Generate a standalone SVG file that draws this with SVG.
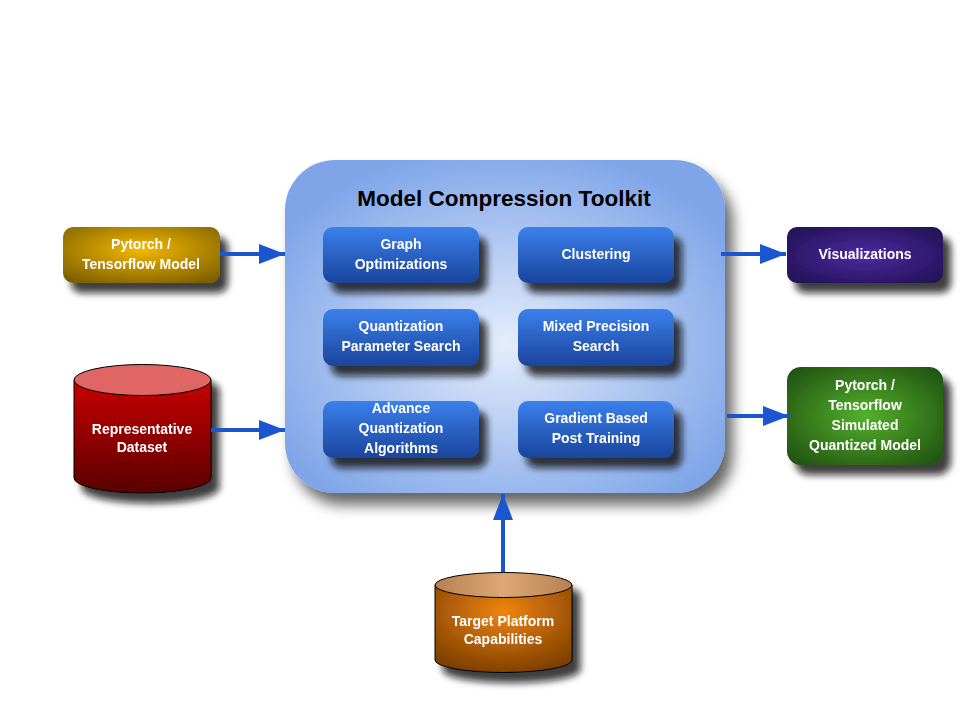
<svg xmlns="http://www.w3.org/2000/svg" width="960" height="720" viewBox="0 0 960 720">
<style>
.t{font-family:"Liberation Sans",Arial,sans-serif;font-weight:bold;fill:#fff;font-size:14px;text-anchor:middle}
.title{font-family:"Liberation Sans",Arial,sans-serif;font-weight:bold;fill:#000;font-size:22.5px;text-anchor:middle}
.conn{stroke:#1a56d0;stroke-width:4;fill:none}
.ib{fill:url(#gBlue)}
</style>
<defs>
<filter id="sh" x="-20%" y="-20%" width="150%" height="170%">
<feDropShadow dx="8" dy="10" stdDeviation="3.5" flood-color="#111" flood-opacity="0.8"/>
</filter>
<filter id="shBig" x="-10%" y="-10%" width="130%" height="130%">
<feDropShadow dx="8" dy="12" stdDeviation="7" flood-color="#000" flood-opacity="0.6"/>
</filter>
<radialGradient id="gMain" cx="0.5" cy="0.55" r="0.6">
<stop offset="0" stop-color="#e4edfc"/>
<stop offset="1" stop-color="#7fa5e8"/>
</radialGradient>
<linearGradient id="gBlue" x1="0" y1="0" x2="0" y2="1">
<stop offset="0" stop-color="#3b80ec"/>
<stop offset="1" stop-color="#1a449c"/>
</linearGradient>
<radialGradient id="gGold" cx="0.5" cy="0.4" r="0.7">
<stop offset="0" stop-color="#f5b800"/>
<stop offset="1" stop-color="#7d6000"/>
</radialGradient>
<radialGradient id="gPurple" cx="0.5" cy="0.5" r="0.7">
<stop offset="0" stop-color="#4d2aa3"/>
<stop offset="1" stop-color="#1f1050"/>
</radialGradient>
<radialGradient id="gGreen" cx="0.5" cy="0.5" r="0.7">
<stop offset="0" stop-color="#52b02c"/>
<stop offset="1" stop-color="#1e4d10"/>
</radialGradient>
<linearGradient id="gRed" x1="0" y1="0" x2="0" y2="1">
<stop offset="0" stop-color="#c80000"/>
<stop offset="1" stop-color="#5a0000"/>
</linearGradient>
<radialGradient id="gOrange" cx="0.5" cy="0.3" r="0.75">
<stop offset="0" stop-color="#ef8410"/>
<stop offset="1" stop-color="#7a3d00"/>
</radialGradient>
<linearGradient id="gOrangeTop" x1="0" y1="0" x2="1" y2="0">
<stop offset="0" stop-color="#b88050"/>
<stop offset="0.5" stop-color="#dca874"/>
<stop offset="1" stop-color="#b88050"/>
</linearGradient>
<marker id="ah" viewBox="0 0 13 10" refX="13" refY="5" markerWidth="6.5" markerHeight="5" markerUnits="strokeWidth" orient="auto">
<path d="M0,0 L13,5 L0,10 z" fill="#1a56d0"/>
</marker>
</defs>

<g id="toolkit">
<rect x="285" y="160" width="440" height="333" rx="50" ry="50" fill="url(#gMain)" filter="url(#shBig)"/>
<text class="title" x="504" y="206">Model Compression Toolkit</text>
</g>

<g id="graph-opt" filter="url(#sh)">
<rect class="ib" x="323" y="227" width="156" height="56" rx="10"/>
<text class="t" x="401" y="249">Graph</text>
<text class="t" x="401" y="269">Optimizations</text>
</g>
<g id="clustering" filter="url(#sh)">
<rect class="ib" x="518" y="227" width="156" height="56" rx="10"/>
<text class="t" x="596" y="259">Clustering</text>
</g>
<g id="qps" filter="url(#sh)">
<rect class="ib" x="323" y="309" width="156" height="57" rx="10"/>
<text class="t" x="401" y="331">Quantization</text>
<text class="t" x="401" y="351">Parameter Search</text>
</g>
<g id="mps" filter="url(#sh)">
<rect class="ib" x="518" y="309" width="156" height="57" rx="10"/>
<text class="t" x="596" y="331">Mixed Precision</text>
<text class="t" x="596" y="351">Search</text>
</g>
<g id="aqa" filter="url(#sh)">
<rect class="ib" x="323" y="401" width="156" height="57" rx="10"/>
<text class="t" x="401" y="413">Advance</text>
<text class="t" x="401" y="433">Quantization</text>
<text class="t" x="401" y="453">Algorithms</text>
</g>
<g id="gbpt" filter="url(#sh)">
<rect class="ib" x="518" y="401" width="156" height="57" rx="10"/>
<text class="t" x="596" y="423">Gradient Based</text>
<text class="t" x="596" y="443">Post Training</text>
</g>

<g id="pytorch-model" filter="url(#sh)">
<rect x="63" y="227" width="157" height="56" rx="10" fill="url(#gGold)"/>
<text class="t" x="141" y="249">Pytorch /</text>
<text class="t" x="141" y="269">Tensorflow Model</text>
</g>

<g id="rep-dataset" filter="url(#sh)">
<path d="M74,380 L74,478 A68.5,15 0 0 0 211,478 L211,380 Z" fill="url(#gRed)" stroke="#000" stroke-width="1"/>
<ellipse cx="142.5" cy="380" rx="68.5" ry="15.5" fill="#e06666" stroke="#000" stroke-width="1"/>
<text class="t" x="142" y="434">Representative</text>
<text class="t" x="142" y="452">Dataset</text>
</g>

<g id="visualizations" filter="url(#sh)">
<rect x="787" y="227" width="156" height="56" rx="10" fill="url(#gPurple)"/>
<text class="t" x="865" y="259">Visualizations</text>
</g>

<g id="sim-model" filter="url(#sh)">
<rect x="787" y="367" width="156" height="98" rx="14" fill="url(#gGreen)"/>
<text class="t" x="865" y="390">Pytorch /</text>
<text class="t" x="865" y="410">Tensorflow</text>
<text class="t" x="865" y="430">Simulated</text>
<text class="t" x="865" y="450">Quantized Model</text>
</g>

<g id="tpc" filter="url(#sh)">
<path d="M435,585 L435,660 A68.5,12.5 0 0 0 572,660 L572,585 Z" fill="url(#gOrange)" stroke="#000" stroke-width="1"/>
<ellipse cx="503.5" cy="585" rx="68.5" ry="12.5" fill="url(#gOrangeTop)" stroke="#000" stroke-width="1"/>
<text class="t" x="503" y="626">Target Platform</text>
<text class="t" x="503" y="644">Capabilities</text>
</g>

<g id="connectors">
<line class="conn" x1="220" y1="254" x2="285" y2="254" marker-end="url(#ah)"/>
<line class="conn" x1="211" y1="430" x2="285" y2="430" marker-end="url(#ah)"/>
<line class="conn" x1="721" y1="254" x2="786" y2="254" marker-end="url(#ah)"/>
<line class="conn" x1="727" y1="416" x2="789" y2="416" marker-end="url(#ah)"/>
<line class="conn" x1="503" y1="572" x2="503" y2="494" marker-end="url(#ah)"/>
</g>
</svg>
